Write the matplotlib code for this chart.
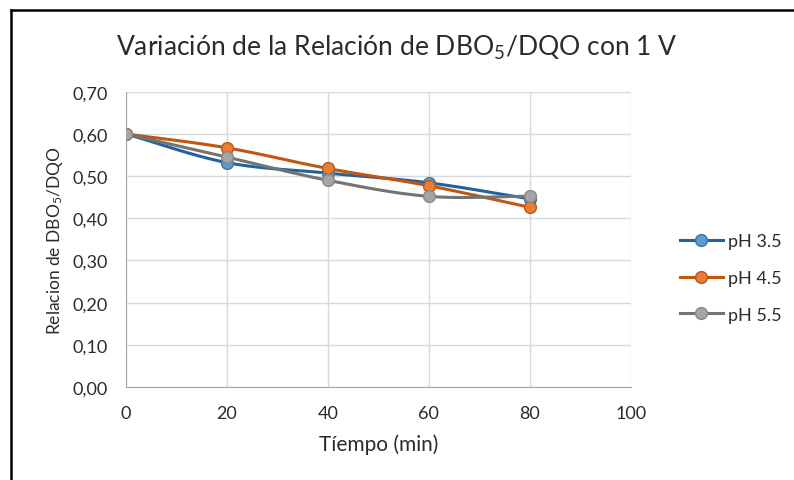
import numpy as np
import matplotlib
matplotlib.use("Agg")
import matplotlib.pyplot as plt
from matplotlib.lines import Line2D

plt.rcParams['font.family'] = ['Lato', 'DejaVu Sans']

tiempo = [0, 20, 40, 60, 80]
ph35 = [0.60, 0.532, 0.507, 0.484, 0.446]
ph45 = [0.60, 0.567, 0.518, 0.477, 0.426]
ph55 = [0.60, 0.545, 0.490, 0.452, 0.452]
labels = ['pH 3.5', 'pH 4.5', 'pH 5.5']
y_ticks = [0.0, 0.1, 0.2, 0.3, 0.4, 0.5, 0.6, 0.7]
x_ticks = [0, 20, 40, 60, 80, 100]

line_cols = ['#24619c', '#c0560f', '#737373']
face_cols = ['#5b9bd5', '#ed7d31', '#a5a5a5']
edge_cols = ['#41719c', '#ae5a21', '#878787']
txt = '#2b2b2b'


def smooth(x, y, n=30):
    # excel-style smoothed line (catmull-rom through the points)
    x = np.asarray(x, float)
    y = np.asarray(y, float)
    px = np.concatenate([[2 * x[0] - x[1]], x, [2 * x[-1] - x[-2]]])
    py = np.concatenate([[2 * y[0] - y[1]], y, [2 * y[-1] - y[-2]]])
    xs, ys = [], []
    t = np.linspace(0, 1, n)
    for i in range(1, len(px) - 2):
        for arr, out in ((px, xs), (py, ys)):
            p0, p1, p2, p3 = arr[i - 1], arr[i], arr[i + 1], arr[i + 2]
            out.extend(0.5 * ((2 * p1) + (-p0 + p2) * t
                              + (2 * p0 - 5 * p1 + 4 * p2 - p3) * t ** 2
                              + (-p0 + 3 * p1 - 3 * p2 + p3) * t ** 3))
    return xs, ys


fig = plt.figure(figsize=(7.94, 4.81), dpi=100)
ax = fig.add_axes([0.1583, 0.1933, 0.6364, 0.614])

handles = []
for ys, lab, lc, fc, ec in zip([ph35, ph45, ph55], labels, line_cols, face_cols, edge_cols):
    sx, sy = smooth(tiempo, ys)
    ax.plot(sx, sy, color=lc, lw=2.2, zorder=3)
    ax.plot(tiempo, ys, ls='none', marker='o', ms=8.5, mfc=fc, mec=ec, mew=1, zorder=4)
    handles.append(Line2D([], [], color=lc, lw=2.2, marker='o', ms=8.5, mfc=fc, mec=ec, mew=1, label=lab))

ax.set_xlim(0, 100)
ax.set_ylim(0, 0.7)
ax.set_xticks(x_ticks)
ax.set_yticks(y_ticks)
ax.set_yticklabels([f"{v:.2f}".replace('.', ',') for v in y_ticks])
ax.grid(True, color='#d9d9d9', lw=1)
ax.set_axisbelow(True)
for s in ['top', 'right']:
    ax.spines[s].set_visible(False)
for s in ['left', 'bottom']:
    ax.spines[s].set_color('#a6a6a6')
ax.tick_params(length=0, labelsize=13, colors=txt)
ax.tick_params(axis='y', pad=13)
ax.tick_params(axis='x', pad=13)

ax.set_xlabel('Tíempo (min)', fontsize=15, color=txt, labelpad=9)
ax.set_ylabel(r'Relacion de DBO$\mathregular{_5}$/DQO', fontsize=12.5, color=txt, labelpad=5)
fig.text(0.5, 0.9, r'Variación de la Relación de DBO$\mathregular{_5}$/DQO con 1 V',
         ha='center', va='center', fontsize=19.1, color=txt)

fig.legend(handles=handles, loc='center left', bbox_to_anchor=(0.856, 0.42), frameon=False,
           fontsize=13, handlelength=2.4, labelspacing=1.15, handletextpad=0.28,
           borderpad=0, borderaxespad=0, labelcolor=txt)

# black frame of the pasted picture (left and top edges)
fig.add_artist(Line2D([11 / 794, 11 / 794], [0, 1 - 11 / 481], transform=fig.transFigure, color='black', lw=1.8))
fig.add_artist(Line2D([11 / 794, 1], [1 - 11 / 481, 1 - 11 / 481], transform=fig.transFigure, color='black', lw=1.8))

fig.savefig('out.png', dpi=100)
